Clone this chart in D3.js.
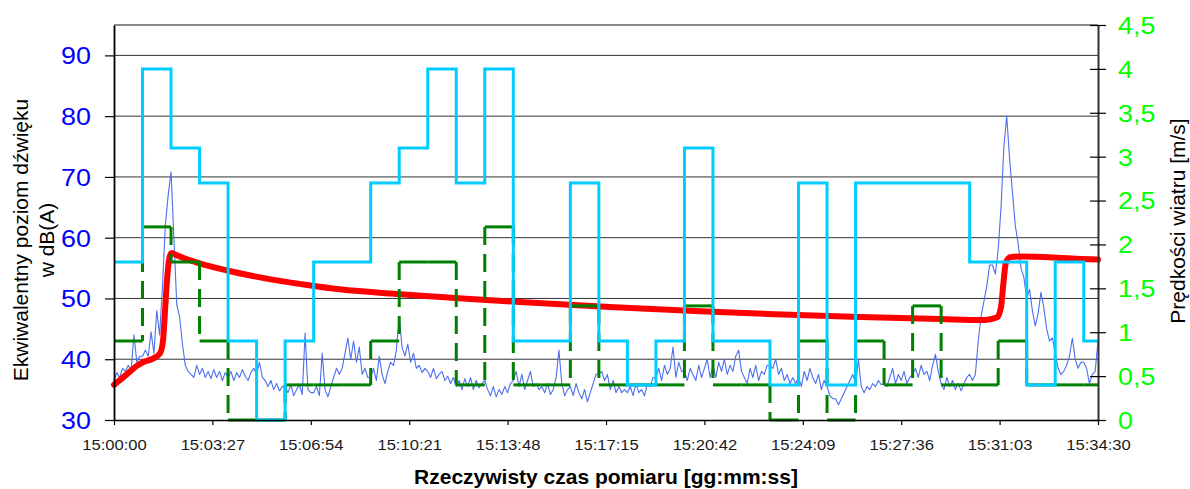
<!DOCTYPE html>
<html><head><meta charset="utf-8">
<script src="https://cdn.jsdelivr.net/npm/d3@7"></script>
<style>
body{margin:0;background:#fff}
svg{display:block}
text{font-family:"Liberation Sans",Arial,sans-serif}
</style>
</head><body>
<svg id="c" width="1190" height="489"></svg>
<script>
// ---------------- data ----------------
const xTickSeconds = [0,207,414,621,828,1035,1242,1449,1656,1863,2070];
const leftTicks = [30,40,50,60,70,80,90];
const rightTicks = [0,0.5,1,1.5,2,2.5,3,3.5,4,4.5];
const totalSeconds = 2070;
const stepSeconds = 60;

// wind speed per minute [m/s]
const cyanSpeed = [1.8,4.0,3.1,2.7,0.9,0,0.9,1.8,1.8,2.7,3.1,4.0,2.7,4.0,0.9,0.9,2.7,0.9,0.4,0.9,3.1,0.9,0.9,0.4,2.7,0.4,2.7,2.7,2.7,2.7,1.8,1.8,0.4,1.8,0.9];
const greenSpeed = [0.9,2.2,1.8,0.9,0,0,0.4,0.4,0.4,0.9,1.8,1.8,0.4,2.2,0.4,0.4,1.3,0.4,0.4,0.4,1.3,0.4,0.4,0,0.9,0,0.9,0.4,1.3,0.4,0.4,0.9,0.4,0.4,0.4];

// sound level every 6 s [dB(A)]
const soundStep = 6;
const soundDb = [
36.5,37.8,37,38.5,38,39,38.2,44,39.5,40.5,
40.5,41.5,40.5,44.5,41,48,44,52,62,67,
70.8,60,49,47,42.5,39,38,37.5,37,39,
37.5,38.5,37,38,36.8,38.3,37,38,36.5,37.8,
37,38,36.5,37.8,37,38.3,37.2,36.5,37.8,38.5,
37.5,39.5,37,36.5,35.5,36.5,35,36,34.8,35.5,
35.5,34.5,35.8,34,35,35.8,34.2,44.3,35,34.5,
34.5,35.5,34,41,35,33.8,35.5,37,38.5,37.5,
38.5,41,43.5,40,43,39.5,42,37.5,38.5,37,
37,38.5,36.5,40.5,37.5,36,38,39.5,39,41.5,
47,42,40.5,42.5,39.5,41,38.5,39,37.8,38.5,
38,37,38.5,36.8,37.5,38,36.5,37.2,36,37,
35.5,36.5,35,36.8,35.5,37,35,36.5,35.3,36,
36.5,35,34,35.5,33.8,35,34.2,35.5,34.5,36,
36.5,38,35.5,37.5,35,36.5,38,35.5,36,35,
35.5,34.5,36,34.2,35,37,41.5,36,34,35,
35.5,34,36,34.5,33.5,35,33,34.5,36,37.5,
37.5,38,36.5,37.5,35,36.5,34.5,35.5,34.5,35,
34.5,35.5,34,36,34.5,35,34,36,35.5,37,
37,38.5,36.5,39,37.5,38.5,42,37,39.5,38,
38,36.5,38.5,37.5,36.5,39,37,38.5,40,37,
39,37,39.5,38,40,37.5,39,38,40.5,41.5,
38,37,36,38.5,37,39,36.5,38,37.5,39,
39,38.5,40,37.5,38.5,36.5,37.5,36,37,36,
37,35.5,38,36.5,38.5,37,36,37.5,35,36.5,
35.5,34,33.5,33.5,32.5,33.5,34.5,35.5,36.5,37.5,
36,40,35.5,34.5,35.5,35,36,35.5,36.5,35.8,
36,35.5,37,38.5,36,37.5,36.5,38,36,37,
37.5,38.5,37,39,37.5,38,36.5,39,40.8,38,
36,35,37,35.5,36.5,35,36,34.8,36,37,
37.5,36.5,37.5,43,47,49.5,52,55.5,55.5,54,
58,65,75,80,73,67.5,62,59,55,53.5,
50,51.5,48,45.5,47.5,51,48.5,45,43,43.5,
41,38.5,37.5,38,39,40.5,43.5,40,38.5,39.5,
39.5,38.5,36,37.5,38,43
];

// equivalent (cumulative) level
const leqTime = [0,13,34,48,61,82,97,103,107,111.5,116,121,132,175,238,292,349,391,475,602,696,854,1043,1233,1390,1569,1738,1832,1858,1866,1871,1876,1885,1910,2007,2070];
const leqDb   = [35.8,36.6,38.0,38.9,39.5,40.1,41.0,43,47.5,53,56.5,57.5,57.1,55.9,54.6,53.7,52.9,52.4,51.5,50.7,50.2,49.4,48.6,47.9,47.4,46.95,46.6,46.45,46.9,48.6,52.5,55.8,56.8,56.9,56.6,56.4];

// ---------------- chart ----------------
const svg = d3.select("#c");
const X0 = 114, X1 = 1098, YB = 420, YT = 25;
const x = d3.scaleLinear().domain([0, totalSeconds]).range([X0, X1]);
const yL = d3.scaleLinear().domain([30, 95]).range([YB, YT]);
const yR = d3.scaleLinear().domain([0, 4.5]).range([YB, YT]);

const pl = d3.formatLocale({decimal: ",", thousands: " ", grouping: [3], currency: ["", ""]});
const fmtR = v => Number.isInteger(v) ? String(v) : pl.format(".1f")(v);
const pad = n => String(n).padStart(2, "0");
const fmtT = t => { const h = 15 + Math.floor(t / 3600), m = Math.floor((t % 3600) / 60), s = t % 60; return h + ":" + pad(m) + ":" + pad(s); };

// gridlines
svg.append("g").selectAll("line").data(leftTicks.filter(v => v > 30)).join("line")
  .attr("x1", X0).attr("x2", X1).attr("y1", d => yL(d)).attr("y2", d => yL(d))
  .attr("stroke", "#333").attr("stroke-width", 1);
// top border
svg.append("line").attr("x1", X0).attr("x2", X1).attr("y1", YT).attr("y2", YT)
  .attr("stroke", "#8c8c8c").attr("stroke-width", 2);

// sound level (thin blue)
const soundPts = soundDb.map((v, i) => [Math.min(i * soundStep, totalSeconds), v]);
svg.append("path").datum(soundPts)
  .attr("d", d3.line().x(d => x(d[0])).y(d => yL(d[1])))
  .attr("fill", "none").attr("stroke", "#4d6ff0").attr("stroke-width", 1.1).attr("stroke-linejoin", "round");

// Leq (thick red)
const leqPts = leqTime.map((t, i) => [t, leqDb[i]]);
svg.append("path").datum(leqPts)
  .attr("d", d3.line().x(d => x(d[0])).y(d => yL(d[1])).curve(d3.curveMonotoneX))
  .attr("fill", "none").attr("stroke", "#ff0000").attr("stroke-width", 6)
  .attr("stroke-linejoin", "round").attr("stroke-linecap", "round");

// green: solid horizontals, dashed verticals
const gH = greenSpeed.map((v, k) => ({x1: k * stepSeconds, x2: Math.min((k + 1) * stepSeconds, totalSeconds), v}));
const gV = [];
for (let k = 0; k < greenSpeed.length - 1; k++) {
  if (greenSpeed[k] !== greenSpeed[k + 1]) gV.push({t: (k + 1) * stepSeconds, a: Math.max(greenSpeed[k], greenSpeed[k + 1]), b: Math.min(greenSpeed[k], greenSpeed[k + 1])});
}
const gg = svg.append("g");
gg.selectAll("line.h").data(gH).join("line").attr("class", "h")
  .attr("x1", d => x(d.x1)).attr("x2", d => x(d.x2)).attr("y1", d => yR(d.v)).attr("y2", d => yR(d.v))
  .attr("stroke", "#008000").attr("stroke-width", 3);
gg.selectAll("line.v").data(gV).join("line").attr("class", "v")
  .attr("x1", d => x(d.t)).attr("x2", d => x(d.t)).attr("y1", d => yR(d.a)).attr("y2", d => yR(d.b))
  .attr("stroke", "#008000").attr("stroke-width", 3).attr("stroke-dasharray", "18,9");

// cyan step
const cyanPts = cyanSpeed.map((v, k) => [k * stepSeconds, v]).concat([[totalSeconds, cyanSpeed[cyanSpeed.length - 1]]]);
svg.append("path").datum(cyanPts)
  .attr("d", d3.line().x(d => x(d[0])).y(d => yR(d[1])).curve(d3.curveStepAfter))
  .attr("fill", "none").attr("stroke", "#00ccff").attr("stroke-width", 3);

// axes
const ax = svg.append("g").attr("transform", `translate(0,${YB})`)
  .call(d3.axisBottom(x).tickValues(xTickSeconds).tickFormat(fmtT).tickSize(5).tickSizeOuter(0));
ax.select(".domain").attr("stroke", "#000").attr("stroke-width", 1.5);
ax.selectAll(".tick line").attr("stroke", "#000").attr("stroke-width", 1.2);
ax.selectAll(".tick text").attr("font-size", 15.5).attr("fill", "#1a1a1a")
  .attr("y", 0).attr("dy", 0).attr("transform", "translate(0,30) scale(1.07,1)")
  .style("font-family", "'Liberation Sans',Arial,sans-serif");

const al = svg.append("g").attr("transform", `translate(${X0},0)`)
  .call(d3.axisLeft(yL).tickValues(leftTicks).tickSize(9).tickSizeOuter(0));
al.select(".domain").attr("stroke", "#000").attr("stroke-width", 1.8);
al.selectAll(".tick line").attr("stroke", "#000").attr("stroke-width", 1.2);
al.selectAll(".tick text").attr("font-size", 24).attr("fill", "#0000ff")
  .attr("x", -23 / 1.12).attr("dy", "0.35em").attr("transform", "scale(1.12,1)")
  .style("font-family", "'Liberation Sans',Arial,sans-serif");

const ar = svg.append("g").attr("transform", `translate(${X1},0)`)
  .call(d3.axisRight(yR).tickValues(rightTicks).tickFormat(fmtR).tickSize(8).tickSizeOuter(0));
ar.select(".domain").attr("stroke", "#333").attr("stroke-width", 2);
ar.selectAll(".tick line").attr("x1", -8).attr("x2", 8).attr("stroke", "#000").attr("stroke-width", 1.2);
ar.selectAll(".tick text").attr("font-size", 24).attr("fill", "#00ff00")
  .attr("x", 20 / 1.12).attr("dy", "0.35em").attr("transform", "scale(1.12,1)")
  .style("font-family", "'Liberation Sans',Arial,sans-serif");

// titles
svg.append("text").attr("x", 606).attr("y", 484).attr("text-anchor", "middle")
  .attr("font-size", 21).attr("font-weight", "bold").attr("fill", "#000")
  .text("Rzeczywisty czas pomiaru [gg:mm:ss]");
const lt = svg.append("g").attr("transform", "translate(0,240) rotate(-90)");
lt.append("text").attr("x", 0).attr("y", 28).attr("text-anchor", "middle").attr("font-size", 21).attr("fill", "#000")
  .text("Ekwiwalentny poziom dźwięku");
lt.append("text").attr("x", 0).attr("y", 54).attr("text-anchor", "middle").attr("font-size", 21).attr("fill", "#000")
  .text("w dB(A)");
svg.append("text").attr("transform", "translate(1185,221) rotate(-90)").attr("text-anchor", "middle")
  .attr("font-size", 21).attr("fill", "#000").text("Prędkości wiatru [m/s]");
</script>
</body></html>
